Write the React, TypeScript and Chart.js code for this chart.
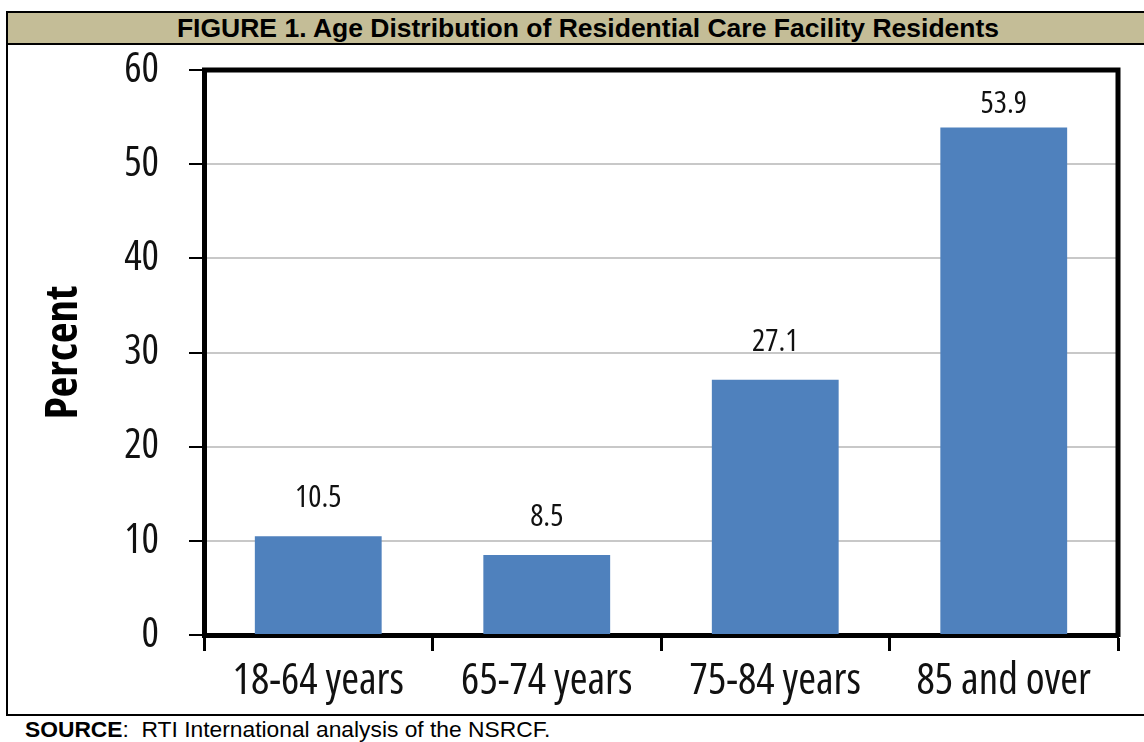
import React, { useEffect, useRef } from "react";
import { Chart, registerables } from "chart.js";

Chart.register(...registerables);

const categories = ["18-64 years", "65-74 years", "75-84 years", "85 and over"];
const percentValues = [10.5, 8.5, 27.1, 53.9];
const yTicks = [0, 10, 20, 30, 40, 50, 60];

const titleText = "FIGURE 1. Age Distribution of Residential Care Facility Residents";
const sourceLabel = "SOURCE";
const sourceText = ":  RTI International analysis of the NSRCF.";
const yAxisTitle = "Percent";

const COND = "'Open Sans', 'DejaVu Sans Condensed', sans-serif";

const valueLabelPlugin = {
  id: "valueLabels",
  afterDatasetsDraw(chart: any) {
    const ctx = chart.ctx;
    const meta = chart.getDatasetMeta(0);
    const area = chart.chartArea;
    ctx.save();
    ctx.font = `condensed 31px ${COND}`;
    ctx.fillStyle = "#111";
    ctx.textAlign = "center";
    ctx.textBaseline = "alphabetic";
    meta.data.forEach((bar: any, i: number) => {
      const v = chart.data.datasets[0].data[i] as number;
      const y = Math.max(bar.y - 29, area.top + 43);
      ctx.fillText(v.toFixed(1), bar.x, y);
    });
    ctx.restore();
  },
};

const framePlugin = {
  id: "frame",
  afterDraw(chart: any) {
    const { ctx, chartArea } = chart;
    ctx.save();
    ctx.strokeStyle = "#000";
    ctx.lineWidth = 5;
    ctx.beginPath();
    ctx.moveTo(chartArea.left - 2, chartArea.top);
    ctx.lineTo(chartArea.right, chartArea.top);
    ctx.lineTo(chartArea.right, chartArea.bottom + 2);
    ctx.stroke();
    ctx.restore();
  },
};

export default function App() {
  const canvasRef = useRef<HTMLCanvasElement | null>(null);

  useEffect(() => {
    if (!canvasRef.current) return;
    const chart = new Chart(canvasRef.current, {
      type: "bar",
      data: {
        labels: categories,
        datasets: [
          {
            data: percentValues,
            backgroundColor: "#4F81BD",
            borderWidth: 0,
            barPercentage: 0.555,
            categoryPercentage: 1,
          },
        ],
      },
      options: {
        responsive: false,
        animation: false,
        devicePixelRatio: 1,
        layout: { padding: { left: 20, top: 70, right: 26, bottom: 0 } },
        plugins: {
          legend: { display: false },
          tooltip: { enabled: false },
        },
        scales: {
          x: {
            afterFit(scale: any) {
              scale.height = 107;
            },
            grid: {
              display: true,
              drawOnChartArea: false,
              drawTicks: true,
              tickLength: 16,
              tickColor: "#000",
              tickWidth: 3,
              offset: true,
            },
            border: { display: true, color: "#000", width: 5 },
            ticks: {
              color: "#111",
              padding: 5,
              maxRotation: 0,
              font: { family: COND, size: 43, weight: "condensed" as any },
            },
          },
          y: {
            min: 0,
            max: 60,
            afterFit(scale: any) {
              scale.width = 184;
            },
            afterBuildTicks(scale: any) {
              scale.ticks = yTicks.map((v) => ({ value: v }));
            },
            grid: {
              color: "#C8C8C8",
              lineWidth: 2,
              drawTicks: true,
              tickLength: 15,
              tickColor: "#000",
              tickWidth: 2,
            },
            border: { display: true, color: "#000", width: 5 },
            ticks: {
              color: "#111",
              padding: 30,
              font: { family: COND, size: 41, weight: "condensed" as any },
              callback: (v: any) => String(v),
            },
            title: {
              display: true,
              text: yAxisTitle,
              color: "#000",
              padding: { top: 17, bottom: 0 },
              font: { family: COND, size: 45, weight: "bold condensed" as any },
            },
          },
        },
      },
      plugins: [valueLabelPlugin, framePlugin],
    });
    return () => chart.destroy();
  }, []);

  return (
    <div
      style={{
        position: "fixed",
        left: 0,
        top: 0,
        width: 1144,
        height: 742,
        overflow: "hidden",
        background: "#fff",
      }}
    >
      <div
        style={{
          position: "absolute",
          left: 6,
          top: 11,
          width: 1160,
          height: 701,
          border: "2px solid #000",
        }}
      >
        <div
          style={{
            height: 30,
            background: "#C4BD97",
            borderBottom: "2px solid #000",
            textAlign: "center",
            fontFamily: "'Liberation Sans', Arial, sans-serif",
            fontWeight: "bold",
            fontSize: 26.5,
            lineHeight: "31px",
            color: "#000",
            whiteSpace: "nowrap",
          }}
        >
          {titleText}
        </div>
      </div>
      <div
        style={{
          position: "absolute",
          left: 25,
          top: 717,
          fontFamily: "'Liberation Sans', Arial, sans-serif",
          fontSize: 22.8,
          lineHeight: "24px",
          color: "#000",
          whiteSpace: "pre",
        }}
      >
        <b>{sourceLabel}</b>
        {sourceText}
      </div>
      <canvas
        ref={canvasRef}
        width={1144}
        height={742}
        style={{ position: "absolute", left: 0, top: 0, width: 1144, height: 742 }}
      />
    </div>
  );
}
